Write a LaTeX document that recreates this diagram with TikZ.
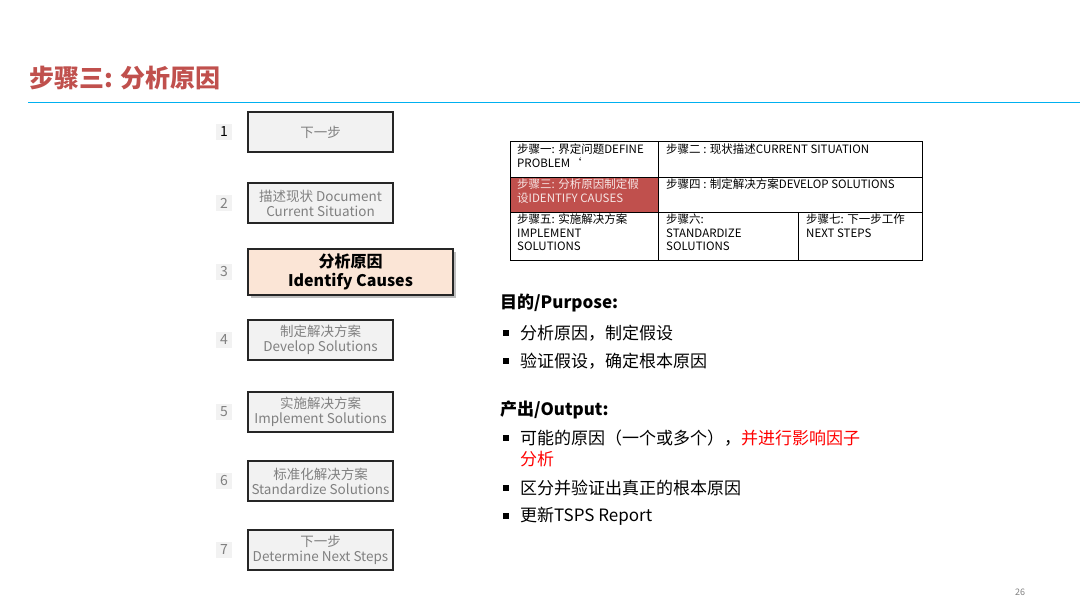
\documentclass[tikz,border=0pt]{standalone}
\usepackage{fontspec}
\setmainfont{Noto Sans CJK SC}
\usetikzlibrary{shadows}
\definecolor{titlered}{RGB}{192,80,77}
\definecolor{lineblue}{RGB}{0,176,240}
\definecolor{boxgray}{RGB}{242,242,242}
\definecolor{txtgray}{RGB}{128,128,128}
\definecolor{peach}{RGB}{251,229,214}
\definecolor{cellred}{RGB}{192,80,77}
\tikzset{
  stepbox/.style={draw=black!85,line width=1.2pt,fill=boxgray,text=txtgray,
    minimum width=145pt,minimum height=40pt,align=center,font=\fontsize{13.5}{15}\selectfont,inner sep=1pt},
  numbox/.style={fill=boxgray,text=txtgray,minimum width=16pt,minimum height=16pt,inner sep=0pt,font=\fontsize{14}{15}\selectfont},
  celltxt/.style={anchor=north west,align=left,font=\fontsize{11.5}{13.5}\selectfont,inner sep=0pt},
  bullettxt/.style={anchor=west,font=\fontsize{17}{21}\selectfont,inner sep=0pt}
}
\begin{document}
\begin{tikzpicture}[x=1pt,y=-1pt]
\useasboundingbox (0,0) rectangle (1080,608);
% title
\node[anchor=west,text=titlered,font=\bfseries\fontsize{25}{27}\selectfont] (title) at (26,78) {步骤三: 分析原因};
\draw[lineblue,line width=1pt] (28,102) -- (1080,102);
% step column
\foreach \n/\y/\t in {1/132/下一步, 2/203/{描述现状 Document\\Current Situation}, 4/340/{制定解决方案\\Develop Solutions},
  5/412/{实施解决方案\\Implement Solutions}, 6/481/{标准化解决方案\\Standardize Solutions}, 7/550/{下一步\\Determine Next Steps}} {
  \node[stepbox] (s\n) at (320.5,\y) {\t};
  \node[numbox] (n\n) at (224,\y) {\n};
}
\node[numbox,text=black] at (224,132) {1};
\node[stepbox,minimum width=205pt,minimum height=46pt,fill=peach,text=black,
  font=\bfseries\fontsize{16}{19}\selectfont,drop shadow={opacity=0.5,shadow xshift=3pt,shadow yshift=-3pt}] (s3) at (350.5,272) {分析原因\\Identify Causes};
\node[numbox] (n3) at (224,272) {3};
% step table
\fill[cellred] (510,177) rectangle (658,212);
\draw[line width=0.8pt] (510,141) rectangle (922,260);
\draw[line width=0.8pt] (510,177) -- (922,177) (510,212) -- (922,212)
  (658,141) -- (658,260) (798,212) -- (798,260);
\node[celltxt] (c1) at (517,144) {步骤一: 界定问题DEFINE\\PROBLEM`};
\node[celltxt] (c2) at (666,144) {步骤二 : 现状描述CURRENT SITUATION};
\node[celltxt,text=white!85!cellred] (c3) at (517,179) {步骤三: 分析原因制定假\\设IDENTIFY CAUSES};
\node[celltxt] (c4) at (666,179) {步骤四 : 制定解决方案DEVELOP SOLUTIONS};
\node[celltxt] (c5) at (517,214) {步骤五: 实施解决方案\\IMPLEMENT\\SOLUTIONS};
\node[celltxt] (c6) at (666,214) {步骤六:\\STANDARDIZE\\SOLUTIONS};
\node[celltxt] (c7) at (806,214) {步骤七: 下一步工作\\NEXT STEPS};
% purpose and output
\node[bullettxt,font=\bfseries\fontsize{17}{21}\selectfont] (purpose) at (500,303) {目的/Purpose:};
\node[bullettxt] (p1) at (520,333) {分析原因，制定假设};
\node[bullettxt] (p2) at (520,361) {验证假设，确定根本原因};
\node[bullettxt,font=\bfseries\fontsize{17}{21}\selectfont] (output) at (500,410) {产出/Output:};
\node[bullettxt] (o1) at (520,438) {可能的原因（一个或多个），\textcolor{red}{并进行影响因子}};
\node[bullettxt,text=red] (o1b) at (520,459) {分析};
\node[bullettxt] (o2) at (520,488) {区分并验证出真正的根本原因};
\node[bullettxt] (o3) at (520,516) {更新TSPS Report};
\foreach \y in {333,361,438,488,516} \fill (503,\y-3) rectangle (509,\y+3);
\node[text=txtgray,font=\fontsize{9}{10}\selectfont] (page) at (1020,592) {26};
\end{tikzpicture}
\end{document}
